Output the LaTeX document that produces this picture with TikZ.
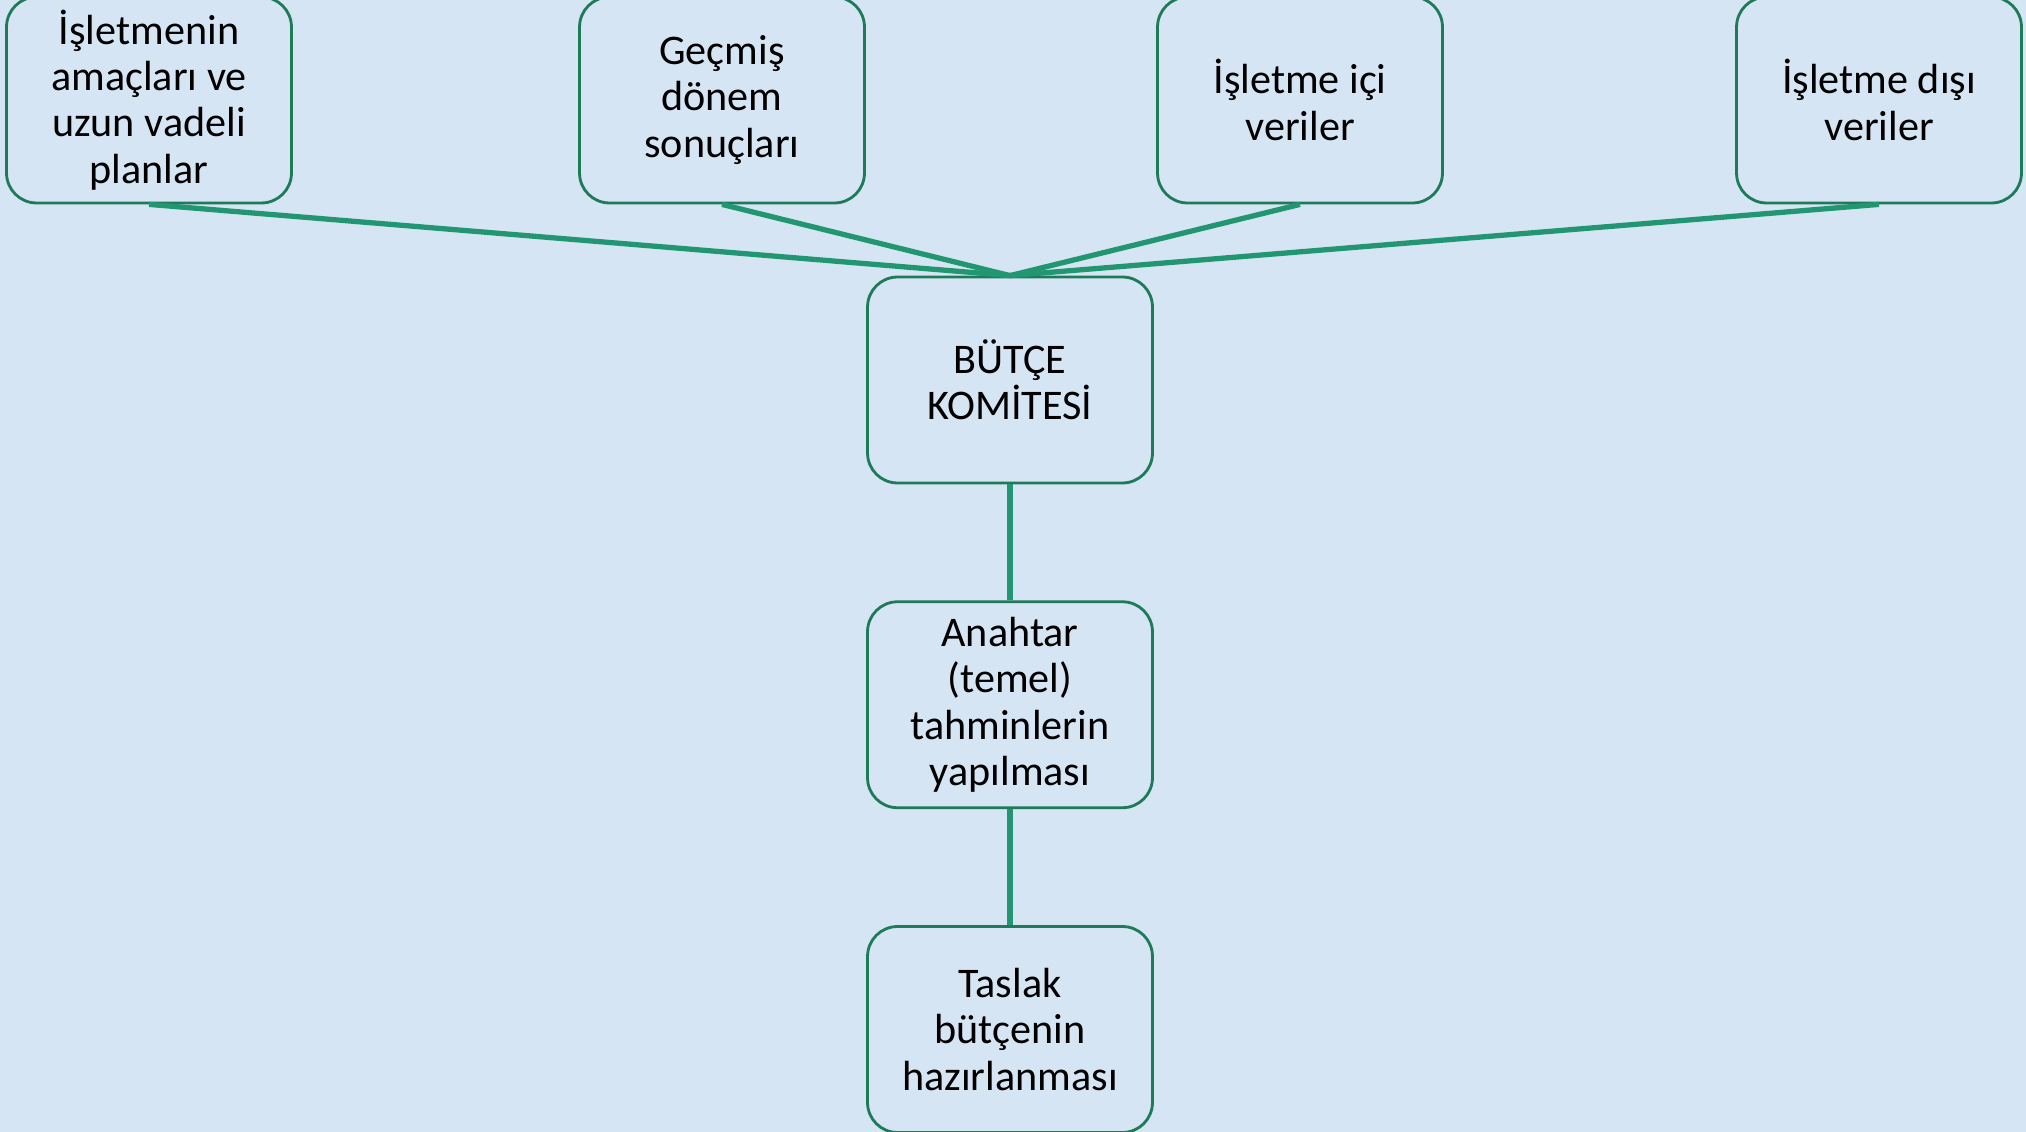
\documentclass[tikz,border=0pt]{standalone}
\usepackage{fontspec}
\setmainfont{Carlito}
\usetikzlibrary{positioning}
\definecolor{bgblue}{RGB}{213,229,243}
\definecolor{boxgreen}{RGB}{30,122,88}
\definecolor{linkgreen}{RGB}{34,150,112}

\begin{document}
\begin{tikzpicture}[x=0.02cm,y=-0.02cm,node distance=2.32cm,
                    box node/.style={rectangle,rounded corners=0.6cm,draw=boxgreen,line width=1.6pt,
                      minimum width=5.7cm,minimum height=4.12cm,align=center,inner sep=0pt,
                      font=\fontsize{24}{26.3}\selectfont},
                    link/.style={draw=linkgreen,line width=3pt}]

  % background
  \fill[bgblue] (0,0) rectangle (2026,1132);
  \useasboundingbox (0,0) rectangle (2026,1132);

  \node[box node] (plan) at (149,100) {İşletmenin\\amaçları ve\\uzun vadeli\\planlar};
  \node[box node] (gecmis) at (722,100) {Geçmiş\\dönem\\sonuçları};
  \node[box node] (ici) at (1300,100) {İşletme içi\\veriler};
  \node[box node] (disi) at (1879,100) {İşletme dışı\\veriler};

  \node[box node] (komite) at (1010,380) {BÜTÇE\\KOMİTESİ};
  \node[box node] (anahtar) [below=of komite] {Anahtar\\(temel)\\tahminlerin\\yapılması};
  \node[box node] (taslak) [below=of anahtar] {Taslak\\bütçenin\\hazırlanması};

  \foreach \n in {plan,gecmis,ici,disi}
    \draw[link] (\n.south) -- (komite.north);
  \draw[link] (komite) -- (anahtar);
  \draw[link] (anahtar) -- (taslak);
\end{tikzpicture}
\end{document}
